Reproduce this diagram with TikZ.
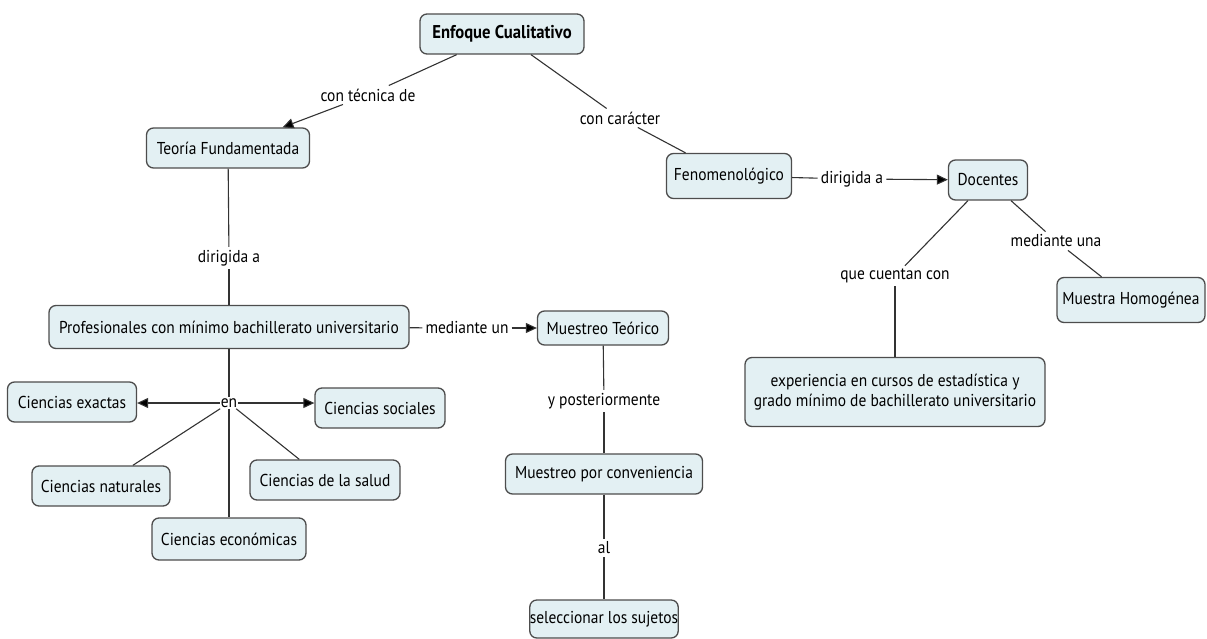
\documentclass[tikz,border=0pt]{standalone}
\usepackage{fontspec}
\setmainfont{PT Sans}[FakeStretch=0.9]
\usetikzlibrary{arrows.meta}

\definecolor{conceptfill}{HTML}{E3F0F3}
\definecolor{conceptline}{HTML}{4D4D4D}

\begin{document}
\begin{tikzpicture}[x=1pt,y=-1pt,
  concept/.style={draw=conceptline, fill=conceptfill, rounded corners=7pt,
    line width=1.3pt, inner sep=0pt, minimum height=40pt,
    font=\fontsize{17.2}{19.5}\selectfont, align=center},
  linkword/.style={inner sep=3pt, font=\fontsize{17.2}{19.5}\selectfont},
  link/.style={draw=black!80, line width=1.1pt},
  linkarrow/.style={link, -{Triangle[length=11pt,width=10pt,fill=black]}}]

% canvas of the same size as the reference (1207 x 639)
\useasboundingbox (0,0) rectangle (1207,639);

% --- concepts ---
\node[concept, minimum width=164pt, font=\bfseries\fontsize{18.5}{20}\selectfont]
  (enfoque) at (502,34) {Enfoque Cualitativo};
\node[concept, minimum width=163pt] (teoria) at (228,148) {Teoría Fundamentada};
\node[concept, minimum width=360pt, minimum height=43pt] (prof) at (229,327)
  {Profesionales con mínimo bachillerato universitario};
\node[concept, minimum width=129pt] (exactas) at (72,402) {Ciencias exactas};
\node[concept, minimum width=130pt] (sociales) at (380,408) {Ciencias sociales};
\node[concept, minimum width=138pt] (naturales) at (101,486) {Ciencias naturales};
\node[concept, minimum width=150pt] (salud) at (325,480) {Ciencias de la salud};
\node[concept, minimum width=154pt, minimum height=42pt] (economicas) at (229,539) {Ciencias económicas};
\node[concept, minimum width=131pt, minimum height=34pt] (teorico) at (603,328) {Muestreo Teórico};
\node[concept, minimum width=197pt] (conveniencia) at (604,474) {Muestreo por conveniencia};
\node[concept, minimum width=148pt, minimum height=38pt] (sujetos) at (604,619) {seleccionar los sujetos};
\node[concept, minimum width=125pt, minimum height=45pt] (fenomeno) at (729,176) {Fenomenológico};
\node[concept, minimum width=79pt] (docentes) at (988,180) {Docentes};
\node[concept, minimum width=148pt, minimum height=45pt] (homogenea) at (1131,300) {Muestra Homogénea};
\node[concept, minimum width=300pt, minimum height=69pt] (experiencia) at (895,392)
  {experiencia en cursos de estadística y\\grado mínimo de bachillerato universitario};

% --- linking words ---
\node[linkword] (tecnica) at (368,95) {con técnica de};
\node[linkword] (caracter) at (620,118) {con carácter};
\node[linkword] (dirigidaT) at (229,258) {dirigida a};
\node[linkword] (medianteun) at (467,328) {mediante un};
\node[linkword, inner sep=1pt] (en) at (229,403) {en};
\node[linkword] (posterior) at (604,401) {y posteriormente};
\node[linkword] (al) at (604,548) {al};
\node[linkword] (dirigidaF) at (852,179) {dirigida a};
\node[linkword] (cuentan) at (895,276) {que cuentan con};
\node[linkword] (medianteuna) at (1056,241) {mediante una};

% --- connectors ---
\draw[link] (enfoque) -- (tecnica);
\draw[linkarrow] (tecnica) -- (teoria);
\draw[link] (enfoque) -- (caracter);
\draw[link] (caracter) -- (fenomeno);

\draw[link] (teoria) -- (dirigidaT);
\draw[link] (dirigidaT) -- (prof);
\draw[link] (prof) -- (medianteun);
\draw[linkarrow] (medianteun) -- (teorico);

\draw[link] (prof) -- (en);
\draw[linkarrow] (en) -- (exactas.east |- en);
\draw[linkarrow] (en) -- (sociales.west |- en);
\draw[link] (en) -- (naturales);
\draw[link] (en) -- (salud);
\draw[link] (en) -- (economicas);

\draw[link] (teorico) -- (posterior);
\draw[link] (posterior) -- (conveniencia);
\draw[link] (conveniencia) -- (al);
\draw[link] (al) -- (sujetos);

\draw[link] (fenomeno) -- (dirigidaF);
\draw[linkarrow] (dirigidaF) -- (docentes);
\draw[link] (docentes) -- (cuentan);
\draw[link] (cuentan) -- (experiencia);
\draw[link] (docentes) -- (medianteuna);
\draw[link] (medianteuna) -- (homogenea);

\end{tikzpicture}
\end{document}
